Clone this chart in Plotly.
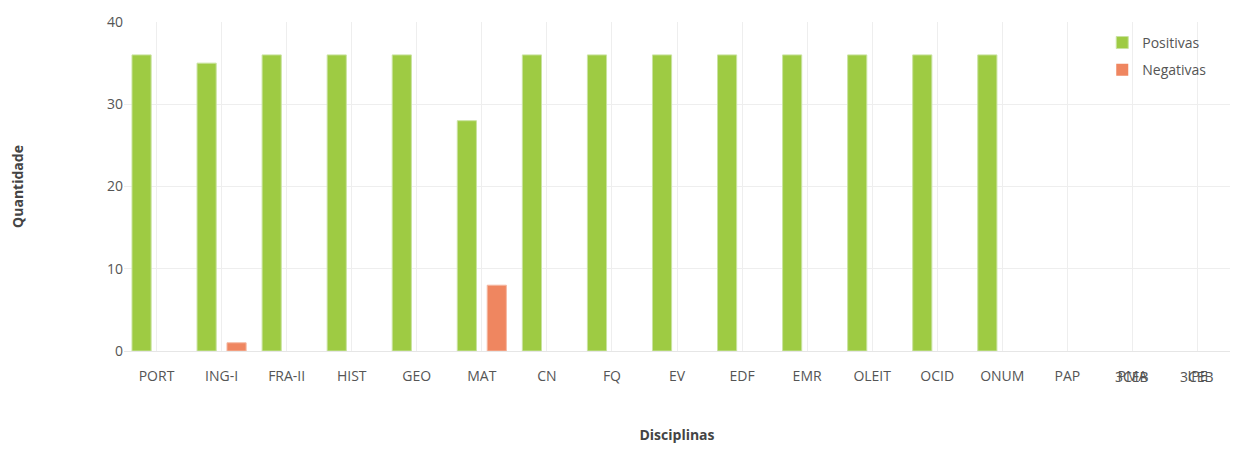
import plotly.graph_objects as go

# Disciplinas e quantidades
disciplinas = ['PORT', 'ING-I', 'FRA-II', 'HIST', 'GEO', 'MAT', 'CN', 'FQ', 'EV',
               'EDF', 'EMR', 'OLEIT', 'OCID', 'ONUM', 'PAP', 'PMA 3CEB', 'IPE 3CEB']
rotulos = ['PORT', 'ING-I', 'FRA-II', 'HIST', 'GEO', 'MAT', 'CN', 'FQ', 'EV',
           'EDF', 'EMR', 'OLEIT', 'OCID', 'ONUM', 'PAP', 'PMA', 'IPE']
# segunda linha dos rótulos longos (aparece sobreposta no original)
rotulos_extra = {'PMA 3CEB': '3CEB', 'IPE 3CEB': '3CEB'}

positivas = [36, 35, 36, 36, 36, 28, 36, 36, 36, 36, 36, 36, 36, 36, 0, 0, 0]
negativas = [0, 1, 0, 0, 0, 8, 0, 0, 0, 0, 0, 0, 0, 0, 0, 0, 0]

C_POS = '#9ecb43'
C_NEG = '#ef8660'
FONTE = 'Open Sans'

fig = go.Figure()
fig.add_trace(go.Bar(
    x=disciplinas, y=positivas, name='Positivas', legendgroup='pos',
    marker=dict(color=C_POS, line=dict(color='#c9e3a0',
                                       width=[1 if v > 0 else 0 for v in positivas])),
))
fig.add_trace(go.Bar(
    x=disciplinas, y=negativas, name='Negativas', legendgroup='neg',
    marker=dict(color=C_NEG, line=dict(color='#f5b8a2',
                                       width=[1 if v > 0 else 0 for v in negativas])),
))

for cat, txt in rotulos_extra.items():
    fig.add_annotation(x=cat, xref='x', y=0, yref='paper', yanchor='middle',
                       yshift=-25, text=txt, showarrow=False,
                       font=dict(family=FONTE, size=14, color='#555555'))

fig.update_layout(
    width=1240, height=436,
    margin=dict(l=116, r=18, t=14, b=93),
    paper_bgcolor='white', plot_bgcolor='white',
    font=dict(family=FONTE, size=14, color='#555555'),
    barmode='group', bargap=0.08, bargroupgap=0.36,
    legend=dict(x=0.8845, y=0.985, xanchor='left', yanchor='top',
                font=dict(family=FONTE, size=14, color='#555555'),
                bgcolor='rgba(0,0,0,0)', itemwidth=30, tracegroupgap=6),
    showlegend=True,
)
fig.update_xaxes(
    type='category', tickmode='array', tickvals=disciplinas, ticktext=rotulos,
    tickfont=dict(size=14, color='#555555'),
    showgrid=True, gridcolor='#eeeeee', gridwidth=1,
    showline=True, linecolor='#e6e6e6', linewidth=1,
    ticks='outside', ticklen=12, tickcolor='rgba(0,0,0,0)', automargin=False,
    title=dict(text='<b>Disciplinas</b>', standoff=60,
               font=dict(family=FONTE, size=14, color='#444444')),
)
fig.update_yaxes(
    range=[0, 40], dtick=10, showgrid=True, gridcolor='#eeeeee', gridwidth=1,
    tickfont=dict(size=14, color='#555555'),
    zeroline=False, automargin=False,
    title=dict(text='<b>Quantidade</b>', standoff=80,
               font=dict(family=FONTE, size=14, color='#444444')),
)

fig.write_html('out.html')
